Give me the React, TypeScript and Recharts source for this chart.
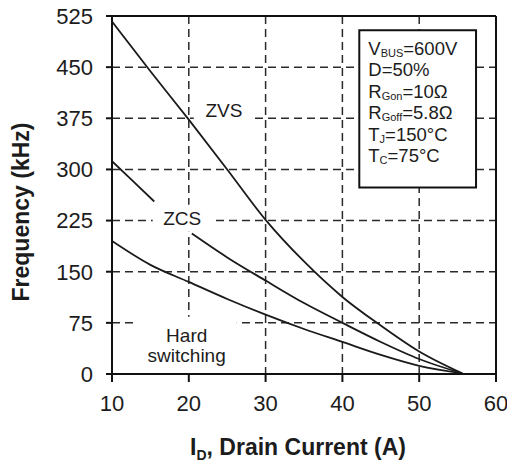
import React from "react";
import {
  LineChart,
  Line,
  XAxis,
  YAxis,
  CartesianGrid,
  ReferenceArea,
  ReferenceLine,
} from "recharts";

const FONT = '"Liberation Sans", Arial, sans-serif';
const INK = "#1c1c1c";

// axis ticks
const X_TICKS = [10, 20, 30, 40, 50, 60];
const Y_TICKS = [0, 75, 150, 225, 300, 375, 450, 525];

// ZVS curve
const ZVS_X = [10, 15, 20, 25, 30, 35, 40, 45, 50, 55.6];
const ZVS_Y = [517, 444, 373, 300, 226, 165, 113, 71, 33, 1];

// ZCS curve, drawn in two pieces around its label
const ZCS_A_X = [10, 12.8, 15.5];
const ZCS_A_Y = [312, 282, 253];
const ZCS_B_X = [20.4, 25, 30, 35, 40, 45, 50, 55.6];
const ZCS_B_Y = [206, 171, 137, 104, 75, 47, 22, 1];

// hard switching curve
const HARD_X = [10, 15, 20, 25, 30, 35, 40, 45, 50, 55.6];
const HARD_Y = [195, 160, 135, 110, 87, 66, 47, 28, 12, 1];

// test conditions box: main text, subscript, rest
const CONDITIONS = [
  ["V", "BUS", "=600V"],
  ["D=50%", "", ""],
  ["R", "Gon", "=10\u03A9"],
  ["R", "Goff", "=5.8\u03A9"],
  ["T", "J", "=150\u00B0C"],
  ["T", "C", "=75\u00B0C"],
];

const toPoints = (xs: number[], ys: number[]) =>
  xs.map((x, i) => ({ x, y: ys[i] }));

const zvs = toPoints(ZVS_X, ZVS_Y);
const zcsA = toPoints(ZCS_A_X, ZCS_A_Y);
const zcsB = toPoints(ZCS_B_X, ZCS_B_Y);
const hard = toPoints(HARD_X, HARD_Y);

interface Box {
  viewBox?: { x: number; y: number; width: number; height: number };
}

// centred text lines inside a white box
const boxText = (lines: string[]) => (props: Box) => {
  const { x = 0, y = 0, width = 0, height = 0 } = props.viewBox || {};
  const step = 20;
  const top = y + height / 2 - ((lines.length - 1) * step) / 2;
  return (
    <g>
      {lines.map((t, i) => (
        <text
          key={t}
          x={x + width / 2}
          y={top + i * step + 6.5}
          textAnchor="middle"
          fontSize={19}
          fontFamily={FONT}
          fill={INK}
        >
          {t}
        </text>
      ))}
    </g>
  );
};

const conditionsText = (props: Box) => {
  const { x = 0, y = 0 } = props.viewBox || {};
  return (
    <g>
      {CONDITIONS.map(([main, sub, rest], i) => (
        <text
          key={i}
          x={x + 9}
          y={y + 24.6 + i * 21.5}
          fontSize={18.5}
          fontFamily={FONT}
          fill={INK}
        >
          <tspan>{main}</tspan>
          {sub && (
            <tspan fontSize={11} dy={2}>
              {sub}
            </tspan>
          )}
          {sub && <tspan dy={-2}>{rest}</tspan>}
        </text>
      ))}
    </g>
  );
};

const xTitle = (props: Box) => {
  const { x = 0, y = 0, width = 0 } = props.viewBox || {};
  return (
    <text
      x={x + width / 2 - 6}
      y={y + 81}
      textAnchor="middle"
      fontSize={23}
      fontWeight="bold"
      fontFamily={FONT}
      fill={INK}
    >
      <tspan>I</tspan>
      <tspan fontSize={14} dy={5}>
        D
      </tspan>
      <tspan dy={-5}>, Drain Current (A)</tspan>
    </text>
  );
};

const yTitle = (props: Box) => {
  const { x = 0, y = 0, height = 0 } = props.viewBox || {};
  const cx = x + 28.5;
  const cy = y + height / 2 + 17;
  return (
    <text
      x={cx}
      y={cy}
      transform={`rotate(-90, ${cx}, ${cy})`}
      textAnchor="middle"
      fontSize={23}
      fontWeight="bold"
      fontFamily={FONT}
      fill={INK}
    >
      Frequency (kHz)
    </text>
  );
};

const tickStyle = { fontSize: 22, fontFamily: FONT, fill: INK };

export default function App() {
  return (
    <div style={{ position: "absolute", left: 0, top: 0 }}>
      <LineChart
        width={507}
        height={466}
        margin={{ top: 16, right: 11, bottom: 0, left: 0 }}
      >
        <CartesianGrid
          stroke="#2a2a2a"
          strokeWidth={1.5}
          strokeDasharray="8 5"
        />
        <XAxis
          type="number"
          dataKey="x"
          domain={[10, 60]}
          ticks={X_TICKS}
          allowDataOverflow
          height={92}
          tickSize={8}
          tickMargin={13}
          tick={tickStyle}
          stroke="#111"
          strokeWidth={2}
          label={{ content: xTitle }}
        />
        <YAxis
          type="number"
          domain={[0, 525]}
          ticks={Y_TICKS}
          allowDataOverflow
          width={112}
          tickSize={6}
          tickMargin={13}
          tick={tickStyle}
          stroke="#111"
          strokeWidth={2}
          label={{ content: yTitle }}
        />
        <ReferenceLine y={525} stroke="#111" strokeWidth={2} />
        <ReferenceLine x={60} stroke="#111" strokeWidth={2} />

        <ReferenceArea
          x1={20.65}
          x2={28.5}
          y1={371.7}
          y2={402.5}
          fill="#fff"
          fillOpacity={1}
          label={{ content: boxText(["ZVS"]) }}
        />
        <ReferenceArea
          x1={15.3}
          x2={23}
          y1={208.7}
          y2={248.3}
          fill="#fff"
          fillOpacity={1}
          label={{ content: boxText(["ZCS"]) }}
        />
        <ReferenceArea
          x1={13.2}
          x2={26.25}
          y1={1}
          y2={84}
          fill="#fff"
          fillOpacity={1}
          label={{ content: boxText(["Hard", "switching"]) }}
        />
        <ReferenceArea
          x1={42.2}
          x2={57.4}
          y1={273.4}
          y2={504.2}
          fill="#fff"
          fillOpacity={1}
          stroke="#111"
          strokeWidth={2}
          label={{ content: conditionsText }}
        />

        <Line
          data={zvs}
          dataKey="y"
          type="monotone"
          stroke="#1a1a1a"
          strokeWidth={1.8}
          dot={false}
          isAnimationActive={false}
        />
        <Line
          data={zcsA}
          dataKey="y"
          type="monotone"
          stroke="#1a1a1a"
          strokeWidth={1.8}
          dot={false}
          isAnimationActive={false}
        />
        <Line
          data={zcsB}
          dataKey="y"
          type="monotone"
          stroke="#1a1a1a"
          strokeWidth={1.8}
          dot={false}
          isAnimationActive={false}
        />
        <Line
          data={hard}
          dataKey="y"
          type="monotone"
          stroke="#1a1a1a"
          strokeWidth={1.8}
          dot={false}
          isAnimationActive={false}
        />
      </LineChart>
    </div>
  );
}
